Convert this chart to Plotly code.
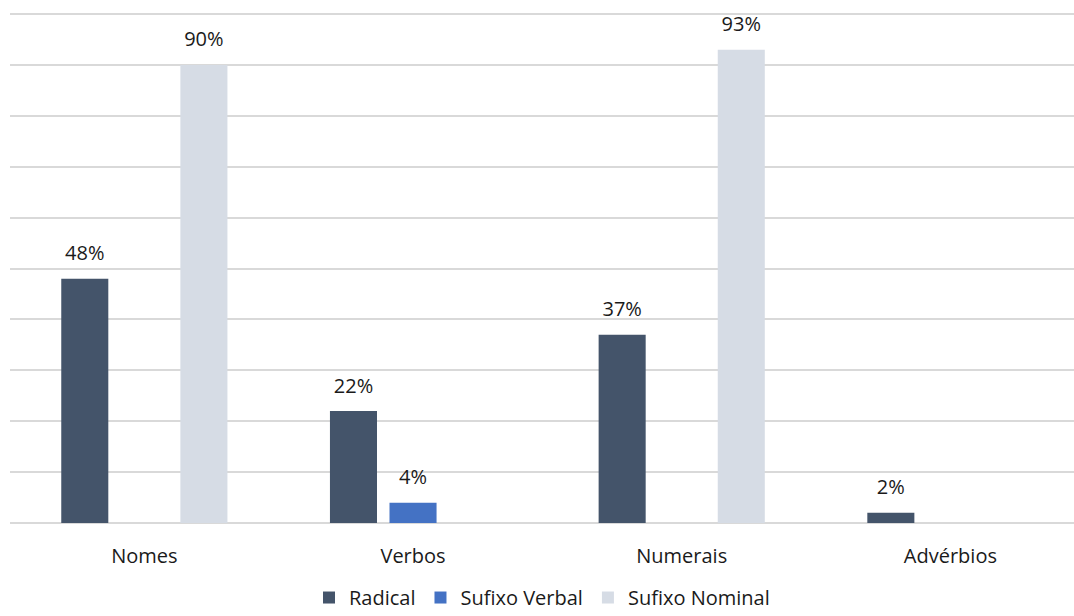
import plotly.graph_objects as go

categories = ["Nomes", "Verbos", "Numerais", "Advérbios"]
radical = [48, 22, 37, 2]
sufixo_verbal = [None, 4, None, None]
sufixo_nominal = [90, None, 93, None]
series_names = ["Radical", "Sufixo Verbal", "Sufixo Nominal"]
series_values = [radical, sufixo_verbal, sufixo_nominal]
colors = ["#44546A", "#4472C4", "#D6DCE5"]

FONT = "Open Sans"
TXT = "#1a1a1a"
BARGAP = 0.335

fig = go.Figure()
for i, (name, vals, col) in enumerate(zip(series_names, series_values, colors)):
    fig.add_trace(go.Bar(
        x=categories, y=vals, name=name, marker_color=col,
        marker_line_width=0, offsetgroup=str(i),
    ))
for i, (name, vals) in enumerate(zip(series_names, series_values)):
    fig.add_trace(go.Scatter(
        x=categories, y=vals, mode="markers+text", showlegend=False,
        text=[f"{v}%" if v is not None else "" for v in vals],
        textposition="top center",
        textfont=dict(family=FONT, size=20, color=TXT),
        marker=dict(size=20, opacity=0), offsetgroup=str(i),
        hoverinfo="skip", cliponaxis=False,
    ))

fig.update_layout(
    width=1074, height=616,
    margin=dict(l=10, r=0, t=9, b=93, autoexpand=False),
    plot_bgcolor="white", paper_bgcolor="white",
    barmode="group", bargap=BARGAP, bargroupgap=0.21,
    scattermode="group", scattergap=BARGAP,
    font=dict(family=FONT, size=20, color=TXT),
    legend=dict(orientation="h", x=0.5, xanchor="center", yref="container",
                y=0.03, yanchor="middle", font=dict(size=20, color=TXT),
                bgcolor="rgba(0,0,0,0)",
                itemwidth=30, traceorder="normal"),
    xaxis=dict(range=[-0.5, 3.46], showgrid=False, showline=False, ticks="",
               tickfont=dict(size=20, color=TXT), ticklabelstandoff=19,
               fixedrange=True, automargin=False),
    yaxis=dict(range=[0, 101], tickvals=list(range(10, 101, 10)), showticklabels=False,
               gridcolor="#d9d9d9", gridwidth=1.5, zeroline=True, automargin=False,
               zerolinecolor="#d9d9d9", zerolinewidth=1.5, showline=False),
)

fig.write_html("out.html")
